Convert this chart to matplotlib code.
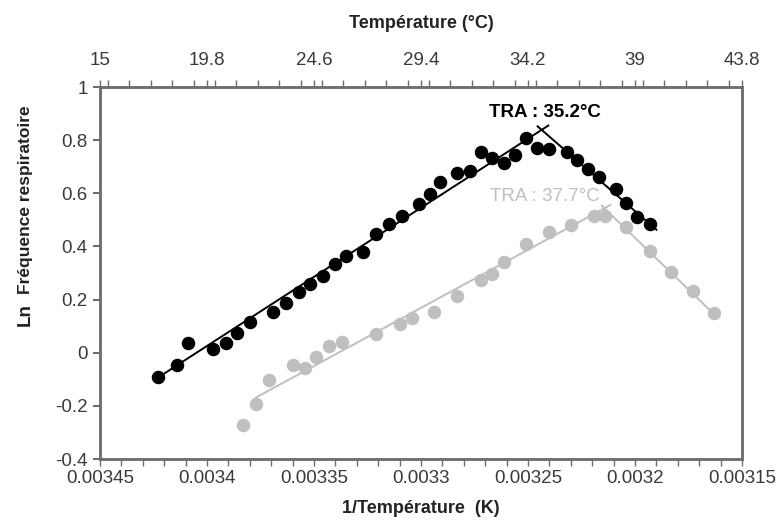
import matplotlib
matplotlib.use("Agg")
import matplotlib.pyplot as plt
from matplotlib.ticker import MultipleLocator, FixedLocator

plt.rcParams['font.family'] = ['Liberation Sans', 'DejaVu Sans']

# Black series (1/T in K^-1, ln respiratory frequency)
black_x = [0.003423, 0.003414, 0.003409, 0.003397, 0.003391, 0.003386, 0.003380,
           0.003369, 0.003363, 0.003357, 0.003352, 0.003346, 0.003340, 0.003335,
           0.003327, 0.003321, 0.003315, 0.003309, 0.003301, 0.003296, 0.003291,
           0.003283, 0.003277, 0.003272, 0.003267, 0.003261, 0.003256, 0.003251,
           0.003246, 0.003240, 0.003232, 0.003227, 0.003222, 0.003217, 0.003209,
           0.003204, 0.003199, 0.003193]
black_y = [-0.093, -0.048, 0.035, 0.014, 0.035, 0.073, 0.114,
           0.152, 0.188, 0.228, 0.260, 0.287, 0.335, 0.365,
           0.379, 0.448, 0.486, 0.513, 0.560, 0.598, 0.642,
           0.676, 0.685, 0.755, 0.731, 0.714, 0.744, 0.807,
           0.769, 0.768, 0.755, 0.726, 0.691, 0.661, 0.617,
           0.563, 0.511, 0.486]

# Grey series
grey_x = [0.003383, 0.003377, 0.003371, 0.003360, 0.003354, 0.003349, 0.003343,
          0.003337, 0.003321, 0.003310, 0.003304, 0.003294, 0.003283, 0.003272,
          0.003267, 0.003261, 0.003251, 0.003240, 0.003230, 0.003219, 0.003214,
          0.003204, 0.003193, 0.003183, 0.003173, 0.003163]
grey_y = [-0.271, -0.193, -0.102, -0.046, -0.056, -0.016, 0.024,
          0.040, 0.072, 0.109, 0.130, 0.154, 0.212, 0.275,
          0.297, 0.342, 0.410, 0.455, 0.482, 0.516, 0.516,
          0.475, 0.384, 0.304, 0.231, 0.149]

# Fitted segments (rising and falling)
black_rise_x = [0.003423, 0.0032405]
black_rise_y = [-0.094, 0.855]
black_fall_x = [0.0032455, 0.003190]
black_fall_y = [0.852, 0.463]
grey_rise_x = [0.003377, 0.0032115]
grey_rise_y = [-0.168, 0.556]
grey_fall_x = [0.0032155, 0.003162]
grey_fall_y = [0.553, 0.137]

bottom_ticks = [0.00345, 0.0034, 0.00335, 0.0033, 0.00325, 0.0032, 0.00315]
bottom_labels = ['0.00345', '0.0034', '0.00335', '0.0033', '0.00325', '0.0032', '0.00315']
top_ticks = [15, 19.8, 24.6, 29.4, 34.2, 39, 43.8]
top_labels = ['15', '19.8', '24.6', '29.4', '34.2', '39', '43.8']
y_ticks = [-0.4, -0.2, 0, 0.2, 0.4, 0.6, 0.8, 1]
y_labels = ['-0.4', '-0.2', '0', '0.2', '0.4', '0.6', '0.8', '1']

BLACK = '#000000'
GREY = '#bfbfbf'
SPINE = '#6e6e6e'
TICKTXT = '#3a3a3a'
TICKFS = 13.5

fig = plt.figure(figsize=(7.84, 5.29), dpi=100)
ax = fig.add_axes([0.1276, 0.1323, 0.8188, 0.7032])

ax.plot(black_rise_x, black_rise_y, color=BLACK, lw=1.4, zorder=2)
ax.plot(black_fall_x, black_fall_y, color=BLACK, lw=1.4, zorder=2)
ax.plot(grey_rise_x, grey_rise_y, color=GREY, lw=1.4, zorder=2)
ax.plot(grey_fall_x, grey_fall_y, color=GREY, lw=1.4, zorder=2)
ax.plot(black_x, black_y, 'o', color=BLACK, ms=8.7, mec=BLACK, zorder=3)
ax.plot(grey_x, grey_y, 'o', color=GREY, ms=8.7, mec=GREY, zorder=3)

ax.set_xlim(0.00345, 0.00315)
ax.set_ylim(-0.4, 1.0)
ax.xaxis.set_major_locator(FixedLocator(bottom_ticks))
ax.set_xticklabels(bottom_labels)
ax.xaxis.set_minor_locator(MultipleLocator(0.00001))
ax.set_yticks(y_ticks)
ax.set_yticklabels(y_labels)

for s in ax.spines.values():
    s.set_color(SPINE)
    s.set_linewidth(1.8)

ax.tick_params(axis='x', which='both', direction='out', length=5, width=1, color=SPINE,
               labelsize=TICKFS, labelcolor=TICKTXT, pad=3)
ax.tick_params(axis='y', which='both', direction='out', length=5, width=1.5, color=SPINE,
               labelsize=TICKFS, labelcolor=TICKTXT, pad=4)

ax.set_xlabel('1/Température  (K)', fontsize=13, fontweight='bold', color='#222222', labelpad=9)

# Y label: "Ln" larger, rest smaller
fig.text(0.032, 0.4045, 'Ln', rotation=90, fontsize=13.5, fontweight='bold',
         color='#222222', ha='center', va='center')
fig.text(0.033, 0.622, 'Fréquence respiratoire', rotation=90, fontsize=12.5,
         fontweight='bold', color='#222222', ha='center', va='center')

# Top axis
ax2 = ax.twiny()
ax2.set_xlim(15, 43.8)
ax2.xaxis.set_major_locator(FixedLocator(top_ticks))
ax2.set_xticklabels(top_labels)
ax2.xaxis.set_minor_locator(MultipleLocator(0.96))
ax2.tick_params(axis='x', which='both', direction='out', length=5, width=1, color=SPINE,
                labelsize=TICKFS, labelcolor=TICKTXT, pad=8)
for s in ax2.spines.values():
    s.set_color(SPINE)
    s.set_linewidth(1.8)
ax2.set_xlabel('Température (°C)', fontsize=13, fontweight='bold', color='#222222', labelpad=17)

ax.text(0.003242, 0.903, 'TRA : 35.2°C', fontsize=13.5, fontweight='bold', color=BLACK,
        ha='center', va='center')
ax.text(0.003242, 0.587, 'TRA : 37.7°C', fontsize=13.5, color=GREY,
        ha='center', va='center')

fig.savefig('out.png', dpi=100)
